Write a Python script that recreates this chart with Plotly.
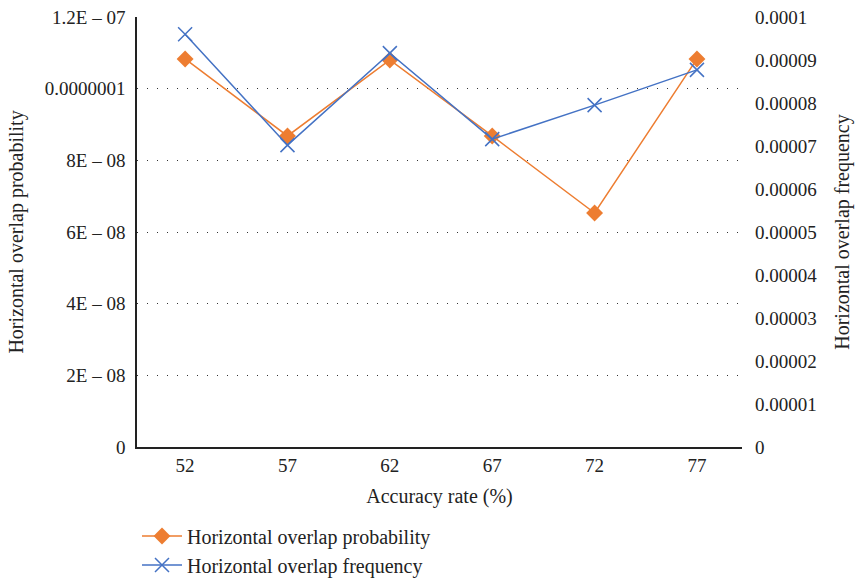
import plotly.graph_objects as go

categories = ["52", "57", "62", "67", "72", "77"]
probability = [1.083e-7, 0.868e-7, 1.08e-7, 0.868e-7, 0.653e-7, 1.083e-7]
frequency = [9.6e-5, 7.02e-5, 9.16e-5, 7.16e-5, 7.95e-5, 8.77e-5]

left_tickvals = [0, 2e-8, 4e-8, 6e-8, 8e-8, 1e-7, 1.2e-7]
left_ticktext = ["0", "2E – 08", "4E – 08", "6E – 08", "8E – 08", "0.0000001", "1.2E – 07"]
right_tickvals = [0, 1e-5, 2e-5, 3e-5, 4e-5, 5e-5, 6e-5, 7e-5, 8e-5, 9e-5, 1e-4]
right_ticktext = ["0", "0.00001", "0.00002", "0.00003", "0.00004", "0.00005",
                  "0.00006", "0.00007", "0.00008", "0.00009", "0.0001"]

ORANGE = "#ED7D31"
BLUE = "#4472C4"
FONT = "Liberation Serif"

fig = go.Figure()
fig.add_trace(go.Scatter(
    x=categories, y=probability, name="Horizontal overlap probability",
    mode="lines+markers", line=dict(color=ORANGE, width=1.5),
    marker=dict(symbol="diamond", size=13, color=ORANGE), yaxis="y"))
fig.add_trace(go.Scatter(
    x=categories, y=frequency, name="Horizontal overlap frequency",
    mode="lines+markers", line=dict(color=BLUE, width=1.5),
    marker=dict(symbol="x-thin", size=14, line=dict(color=BLUE, width=1.5)),
    yaxis="y2"))

fig.update_layout(
    width=856, height=579,
    margin=dict(l=137, r=114, t=17, b=132, autoexpand=False),
    paper_bgcolor="white", plot_bgcolor="white",
    font=dict(family=FONT, size=19, color="#222"),
    xaxis=dict(type="category", range=[-0.47, 5.44], showline=True, linecolor="#222",
               linewidth=1.5, showgrid=False, ticks="", tickfont=dict(size=19),
               title=dict(text="Accuracy rate (%)", font=dict(size=20), standoff=14)),
    yaxis=dict(range=[0, 1.2e-7], tickvals=left_tickvals, ticktext=left_ticktext,
               showline=True, linecolor="#222", linewidth=1.5,
               showgrid=True, gridcolor="#333", gridwidth=1, griddash="1px,9px",
               zeroline=False, ticks="", ticklabelstandoff=6,
               tickfont=dict(size=19),
               title=dict(text="Horizontal overlap probability", font=dict(size=20), standoff=16)),
    yaxis2=dict(range=[0, 1e-4], tickvals=right_tickvals, ticktext=right_ticktext,
                overlaying="y", side="right", showgrid=False, zeroline=False,
                showline=False, ticks="", ticklabelstandoff=12,
                tickfont=dict(size=19),
                title=dict(text="Horizontal overlap frequency", font=dict(size=20), standoff=18)),
    legend=dict(x=0, xanchor="left", yref="container", y=0.108, yanchor="top",
                font=dict(size=20), tracegroupgap=0, itemwidth=40,
                bgcolor="rgba(0,0,0,0)"),
    showlegend=True,
)

fig.write_html("out.html")
